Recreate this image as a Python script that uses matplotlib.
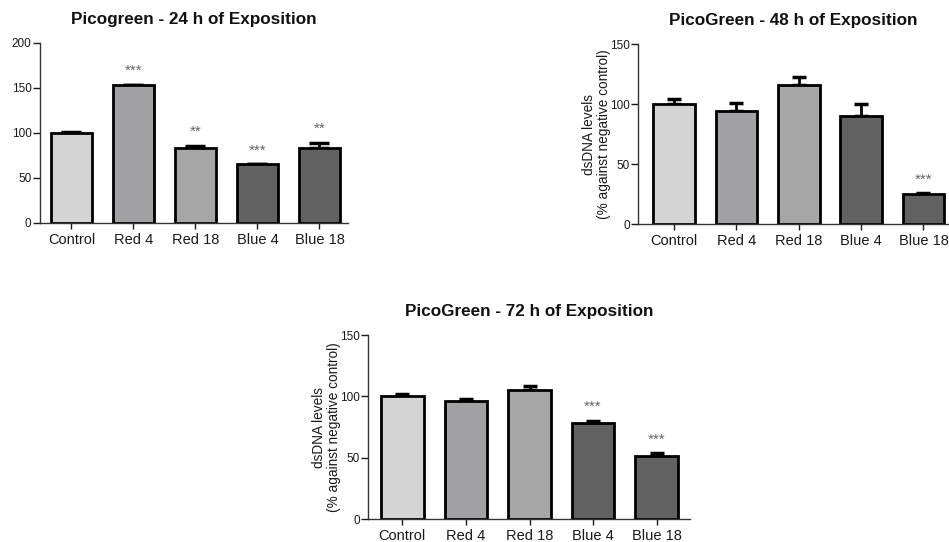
import numpy as np
import matplotlib
matplotlib.use('Agg')
import matplotlib.pyplot as plt

plt.rcParams['font.family'] = ['Liberation Sans', 'DejaVu Sans']

groups = ['Control', 'Red 4', 'Red 18', 'Blue 4', 'Blue 18']
bar_colors = ['#d4d4d4', '#a2a2a4', '#a6a6a6', '#626262', '#626262']

# 24 h
mean_24 = [100, 153, 83, 65, 83]
err_24 = [1.5, 0.5, 3, 0.3, 6]
stars_24 = ['', '***', '**', '***', '**']

# 48 h
mean_48 = [100, 94, 116, 90, 25]
err_48 = [4.5, 7, 6.5, 10, 0.5]
stars_48 = ['', '', '', '', '***']

# 72 h
mean_72 = [100, 96.5, 105, 78, 51.5]
err_72 = [2, 1, 3.5, 2, 2]
stars_72 = ['', '', '', '***', '***']

panels = [
    # title, means, errors, stars, ymax, yticks, ylabel?, rect, xlim, capsize
    ('Picogreen - 24 h of Exposition', mean_24, err_24, stars_24, 200, [0, 50, 100, 150, 200],
     False, [0.0421, 0.5886, 0.3246, 0.3321], (-0.508, 4.46), 7),
    ('PicoGreen - 48 h of Exposition', mean_48, err_48, stars_48, 150, [0, 50, 100, 150],
     True, [0.6723, 0.5867, 0.3277, 0.3321], (-0.578, 4.41), 5),
    ('PicoGreen - 72 h of Exposition', mean_72, err_72, stars_72, 150, [0, 50, 100, 150],
     True, [0.3878, 0.0424, 0.339, 0.3395], (-0.54, 4.52), 5),
]

fig = plt.figure(figsize=(9.49, 5.42), dpi=100)

for title, means, errs, stars, ymax, yticks, ylab, rect, xl, cap in panels:
    ax = fig.add_axes(rect)
    x = np.arange(len(groups))
    ax.bar(x, means, width=0.67, color=bar_colors, edgecolor='black', linewidth=2, zorder=2)
    # only the upper half of the error bar is drawn
    yerr = np.array([np.zeros(len(errs)), errs])
    ax.errorbar(x, means, yerr=yerr, fmt='none', ecolor='black', elinewidth=2,
                capsize=cap, capthick=2.5, zorder=1)
    for xi, m, e, s in zip(x, means, errs, stars):
        if s:
            ax.annotate(s, (xi, m + e), xytext=(0, 7), textcoords='offset points',
                        ha='center', va='baseline', fontsize=11, color='#666666')
    ax.set_xlim(*xl)
    ax.set_ylim(0, ymax)
    ax.set_yticks(yticks)
    ax.set_xticks(x)
    ax.set_xticklabels(groups)
    ax.tick_params(axis='x', labelsize=10.5, colors='#1a1a1a', direction='out',
                   length=4, width=1, pad=3)
    ax.tick_params(axis='y', labelsize=8.5, colors='#1a1a1a', direction='out',
                   length=5, width=1, pad=1)
    for sp in ['top', 'right']:
        ax.spines[sp].set_visible(False)
    for sp in ['left', 'bottom']:
        ax.spines[sp].set_linewidth(1.0)
        ax.spines[sp].set_color('#333333')
    ax.set_title(title, fontsize=12.3, fontweight='bold', pad=14, color='#111111')
    if ylab:
        ax.set_ylabel('dsDNA levels\n(% against negative control)', fontsize=9.8,
                      color='#1a1a1a', labelpad=-1, linespacing=1.1)

fig.savefig('out.png', dpi=100)
